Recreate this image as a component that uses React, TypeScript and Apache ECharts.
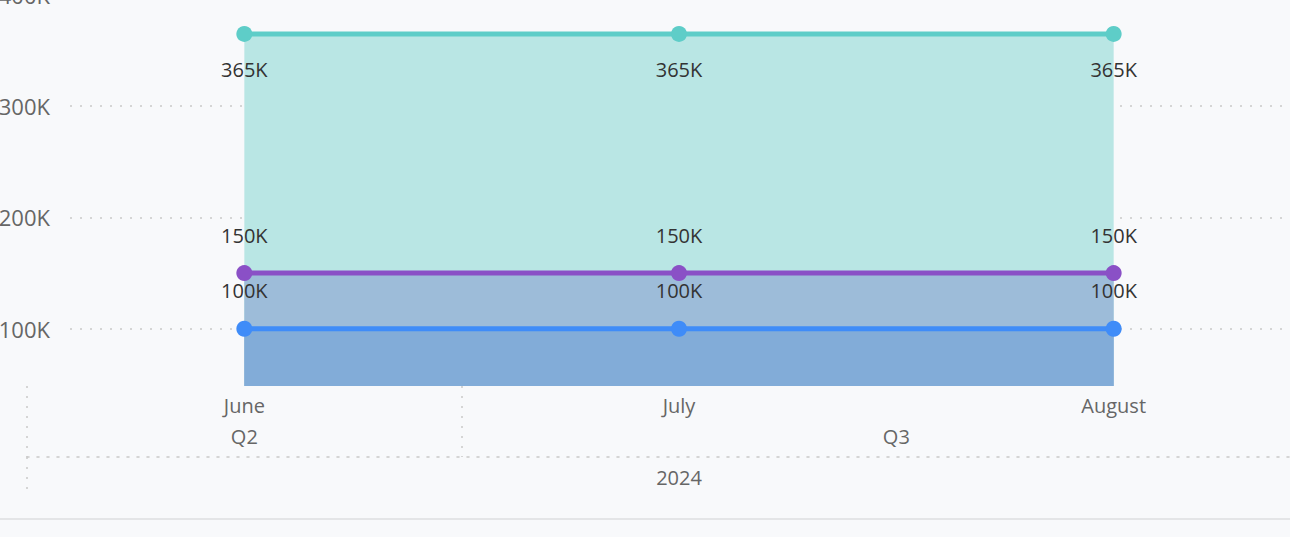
import React, { useEffect, useRef } from "react";
import * as echarts from "echarts";

const months = ["June", "July", "August"];
const quarters = ["Q2", "Q3"];
const quarterMonthCounts = [1, 2];
const years = ["2024"];
const yearMonthCounts = [3];

const seriesNames = ["Series C", "Series B", "Series A"];
const seriesC = [365000, 365000, 365000];
const seriesB = [150000, 150000, 150000];
const seriesA = [100000, 100000, 100000];

const yMin = 48500;
const yMax = 400000;

const FONT = "Open Sans";
const GRID_LINE = "#c9c9c9";

function buildLevel(names: string[], counts: number[]) {
  const slots: string[] = new Array(months.length * 2 + 1).fill("");
  const bounds = new Set<number>();
  let start = 0;
  names.forEach((n, i) => {
    bounds.add(start * 2);
    slots[start * 2 + counts[i]] = n;
    start += counts[i];
  });
  return { slots, bounds };
}

export default function App() {
  const ref = useRef<HTMLDivElement>(null);

  useEffect(() => {
    if (!ref.current) return;
    const chart = echarts.init(ref.current, null, { renderer: "svg" });
    const q = buildLevel(quarters, quarterMonthCounts);
    const y = buildLevel(years, yearMonthCounts);
    const fmtK = (v: number) => Math.round(v / 1000) + "K";
    const dotted = { color: GRID_LINE, width: 1.5, type: [2, 8] as any };

    const mk = (name: string, data: number[], color: string, area: string, pos: string, dist: number) => ({
      name,
      type: "line",
      xAxisIndex: 0,
      yAxisIndex: 0,
      data,
      symbol: "circle",
      symbolSize: 16,
      lineStyle: { color, width: 5 },
      itemStyle: { color },
      areaStyle: { color: area, opacity: 1, origin: "start" },
      label: {
        show: true,
        position: pos,
        distance: dist,
        formatter: (p: any) => fmtK(p.value),
        color: "#333333",
        fontSize: 20,
        fontFamily: FONT,
      },
    });

    const axisText = { color: "#666666", fontSize: 20, fontFamily: FONT };

    chart.setOption({
      animation: false,
      backgroundColor: "#f8f9fb",
      grid: [
        { left: 27, right: -41, top: -5, bottom: 151, outerBoundsMode: "none" },
        { left: 70, right: 7, top: -5, bottom: 151, outerBoundsMode: "none" },
      ],
      xAxis: [
        {
          type: "category",
          gridIndex: 0,
          data: months,
          boundaryGap: true,
          position: "bottom",
          axisLine: { show: false, onZero: false },
          axisTick: { show: false },
          splitLine: { show: false },
          axisLabel: { ...axisText, margin: 9 },
        },
        {
          type: "category",
          gridIndex: 0,
          data: q.slots,
          boundaryGap: false,
          position: "bottom",
          axisLine: { show: false, onZero: false },
          axisTick: {
            show: true,
            length: 71,
            interval: (i: number) => q.bounds.has(i),
            lineStyle: dotted,
          },
          splitLine: { show: false },
          axisLabel: { ...axisText, interval: 0, margin: 40 },
        },
        {
          type: "category",
          gridIndex: 0,
          data: y.slots,
          boundaryGap: false,
          position: "bottom",
          offset: 71,
          axisLine: { show: true, onZero: false, lineStyle: dotted },
          axisTick: {
            show: true,
            length: 40,
            interval: (i: number) => y.bounds.has(i),
            lineStyle: dotted,
          },
          splitLine: { show: false },
          axisLabel: { ...axisText, interval: 0, margin: 10 },
        },
        {
          type: "category",
          gridIndex: 1,
          data: months,
          show: false,
        },
      ],
      yAxis: [
        { type: "value", gridIndex: 0, min: yMin, max: yMax, show: false, splitLine: { show: false } },
        {
          type: "value",
          gridIndex: 1,
          min: yMin,
          max: yMax,
          splitNumber: 4,
          axisLine: { show: false },
          axisTick: { show: false },
          axisLabel: {
            showMinLabel: false,
            formatter: fmtK,
            color: "#666666",
            fontSize: 22,
            fontFamily: FONT,
            margin: 20,
          },
          splitLine: { show: true, showMinLine: false, lineStyle: dotted },
        },
      ],
      graphic: [
        {
          type: "line",
          shape: { x1: 0, y1: 519, x2: 1290, y2: 519 },
          style: { stroke: "#e4e5e7", lineWidth: 2 },
          silent: true,
        },
      ],
      series: [
        mk(seriesNames[0], seriesC, "#5ecdc8", "#b9e6e4", "bottom", 18),
        mk(seriesNames[1], seriesB, "#8a50c6", "#9dbcd9", "top", 20),
        mk(seriesNames[2], seriesA, "#3f8cf8", "#82acd8", "top", 20),
      ],
    });
    return () => chart.dispose();
  }, []);

  return (
    <div
      ref={ref}
      style={{ position: "fixed", left: 0, top: 0, width: 1290, height: 537 }}
    />
  );
}
